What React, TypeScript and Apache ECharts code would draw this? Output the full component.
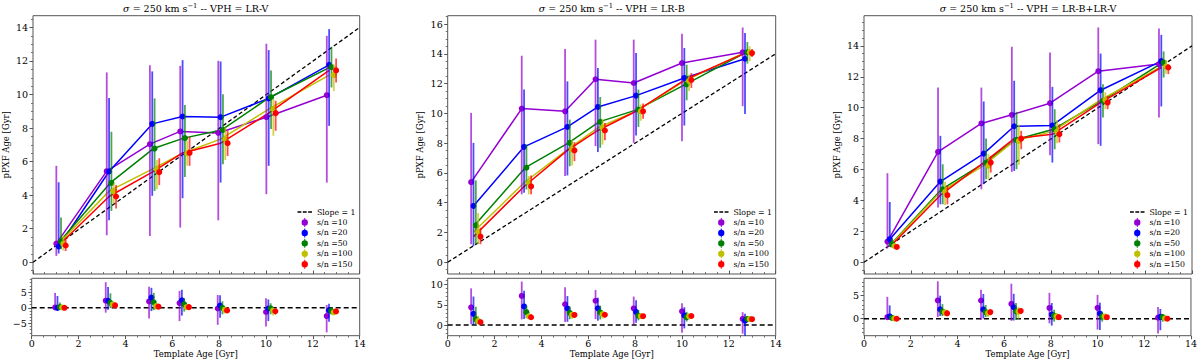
import React, { useEffect, useRef } from 'react';
import * as echarts from 'echarts';

// ---------------- data ----------------
const TEMPLATE_AGES = [1.0, 3.16, 5.01, 6.31, 7.94, 10.0, 12.59];
const SN_LABELS = ['s/n =10', 's/n =20', 's/n =50', 's/n =100', 's/n =150'];
const SN_COLORS = ['#9400d3', '#0000ff', '#008000', '#bfbf00', '#ff0000'];
const POINT_X_OFFSETS = [0, 0.1, 0.2, 0.3, 0.4];
const LINE_X_OFFSETS = [0, 0.1, 0.15, 0.1, 0.1];

// rows: [pPXF age, lower error end, upper error end]
const LRV_SN10 = [[1.11, 0.38, 5.75], [5.43, 1.61, 11.32], [7.04, 1.57, 11.75], [7.8, 2.07, 11.71], [7.71, 2.5, 12.01], [8.65, 4.06, 13.03], [9.96, 4.75, 13.5]];
const LRV_SN20 = [[0.94, 0.52, 4.77], [5.41, 2.5, 9.79], [8.25, 3.96, 11.38], [8.69, 3.82, 12.05], [8.65, 4.75, 11.97], [9.77, 5.75, 12.65], [11.77, 8.13, 13.9]];
const LRV_SN50 = [[1.24, 0.78, 2.67], [4.73, 3.06, 7.78], [6.78, 4.25, 9.77], [7.4, 5.09, 9.37], [7.89, 5.85, 10.02], [9.84, 7.94, 11.44], [11.63, 10.42, 12.85]];
const LRV_SN100 = [[1.1, 0.7, 1.6], [4.24, 3.5, 4.7], [5.55, 4.36, 6.1], [6.5, 5.75, 7.24], [7.34, 6.1, 8.04], [9.13, 7.54, 9.73], [11.16, 10.2, 11.8]];
const LRV_SN150 = [[1.0, 0.67, 1.37], [3.92, 3.2, 4.61], [5.37, 4.6, 6.2], [6.52, 5.75, 7.48], [7.1, 6.34, 7.84], [8.89, 7.84, 9.63], [11.44, 10.72, 12.15]];

const LRB_SN10 = [[5.38, 1.21, 10.03], [10.32, 4.56, 13.87], [10.14, 5.79, 14.32], [12.29, 7.8, 14.95], [12.04, 8.02, 14.95], [13.38, 8.13, 15.35], [14.1, 10.48, 15.77]];
const LRB_SN20 = [[3.78, 1.09, 8.02], [7.75, 4.67, 11.6], [9.09, 5.83, 12.15], [10.43, 7.4, 13.05], [11.19, 8.51, 14.05], [12.38, 9.18, 14.39], [13.67, 9.96, 15.4]];
const LRB_SN50 = [[2.48, 1.21, 5.5], [6.35, 4.89, 7.91], [8.02, 6.45, 9.58], [9.43, 7.69, 11.1], [10.25, 9.09, 11.6], [11.95, 10.88, 13.27], [14.1, 13.34, 14.79]];
const LRB_SN100 = [[2.03, 1.21, 3.3], [5.34, 4.56, 5.8], [7.57, 6.5, 8.2], [9.03, 7.9, 9.6], [10.14, 9.5, 10.6], [12.17, 11.5, 12.6], [14.1, 13.5, 14.5]];
const LRB_SN150 = [[1.72, 1.21, 2.32], [5.09, 4.56, 5.83], [7.51, 6.79, 8.07], [8.85, 8.2, 9.36], [10.14, 9.63, 10.66], [12.24, 11.71, 12.71], [14.05, 13.79, 14.32]];

const LRBV_SN10 = [[1.34, 0.89, 5.76], [7.14, 3.54, 11.3], [8.98, 4.72, 11.3], [9.54, 5.85, 13.94], [10.29, 6.93, 13.57], [12.36, 7.64, 15.19], [12.82, 9.36, 15.12]];
const LRBV_SN20 = [[1.49, 1.01, 3.9], [5.22, 3.75, 8.18], [7.03, 5.05, 10.4], [8.8, 5.91, 11.74], [8.85, 6.45, 11.35], [11.13, 7.53, 13.5], [13.01, 10.08, 14.71]];
const LRBV_SN50 = [[1.17, 0.95, 1.5], [4.72, 3.75, 6.34], [6.45, 5.37, 8.0], [7.92, 6.02, 9.73], [8.61, 7.31, 9.9], [10.44, 9.36, 11.52], [12.92, 11.95, 13.64]];
const LRBV_SN100 = [[1.05, 0.9, 1.25], [4.55, 3.7, 5.2], [6.25, 5.4, 7.0], [7.85, 6.3, 8.9], [8.45, 7.7, 9.2], [10.5, 9.9, 11.0], [12.66, 12.2, 13.1]];
const LRBV_SN150 = [[0.99, 0.9, 1.1], [4.34, 3.75, 4.94], [6.45, 5.8, 6.88], [8.0, 7.31, 8.5], [8.28, 7.75, 8.93], [10.33, 9.9, 10.76], [12.6, 12.17, 12.82]];

const PANEL_VPH = ['LR-V', 'LR-B', 'LR-B+LR-V'];
const PANEL_SERIES = [
  [LRV_SN10, LRV_SN20, LRV_SN50, LRV_SN100, LRV_SN150],
  [LRB_SN10, LRB_SN20, LRB_SN50, LRB_SN100, LRB_SN150],
  [LRBV_SN10, LRBV_SN20, LRBV_SN50, LRBV_SN100, LRBV_SN150],
];

const MAIN_Y_MIN = [-0.7, -0.79, -0.76];
const MAIN_Y_MAX = [14.7, 16.56, 15.95];
const MAIN_Y_TICKS = [
  [0, 2, 4, 6, 8, 10, 12, 14],
  [0, 2, 4, 6, 8, 10, 12, 14, 16],
  [0, 2, 4, 6, 8, 10, 12, 14],
];
const RES_Y_MIN = [-8.9, -2.6, -3.7];
const RES_Y_MAX = [9.4, 11.5, 8.8];
const RES_Y_TICKS = [
  [-5, 0, 5],
  [0, 5, 10],
  [0, 5],
];
const X_MIN = 0;
const X_MAX = 14;
const SLOPE_LINE = [[0, 0], [14, 14]];
const ZERO_LINE = [[0, 0], [14, 0]];

// ---------------- layout / style ----------------
const FONT = '"DejaVu Serif", serif';
const FRAME = '#555555';
const GRID_LEFT = [31.7, 447.7, 864];
const GRID_W = 328;
const MAIN_TOP = 15.7;
const MAIN_H = 258.3;
const RES_TOP = 278.3;
const RES_H = 57.4;
const LEGEND_LEFT = [297.5, 714, 1130];
const LEGEND_TOP = 207.5;
const TICK_FS = 9.5;
const NAME_FS = 8.5;

const ERR_ICON =
  'path://M5.35,0h2v2.7h-2z M5.35,15.3h2v2.7h-2z M0,9a6.35,6.35 0 1 0 12.7,0a6.35,6.35 0 1 0 -12.7,0z';
const DASH_ICON = 'path://M0,0h4v1.4h-4z M5.5,0h4v1.4h-4z M11,0h4v1.4h-4z';

function minorValues(min: number, max: number, step: number, majorStep: number) {
  const out: number[] = [];
  const start = Math.ceil(min / step);
  const end = Math.floor(max / step);
  for (let i = start; i <= end; i++) {
    const v = +(i * step).toFixed(6);
    if (Math.abs(v / majorStep - Math.round(v / majorStep)) > 1e-6) out.push(v);
  }
  return out;
}

const fmt = (v: number) => String(v).replace('-', '\u2212');

function errorRender(color: string) {
  return (params: any, api: any) => {
    const x = api.value(0);
    const y = api.value(1);
    const lo = api.value(2);
    const hi = api.value(3);
    const pLo = api.coord([x, lo]);
    const pHi = api.coord([x, hi]);
    const p = api.coord([x, y]);
    return {
      type: 'group',
      children: [
        {
          type: 'line',
          shape: { x1: pLo[0], y1: pLo[1], x2: pHi[0], y2: pHi[1] },
          style: { stroke: color, lineWidth: 1.8, opacity: 0.7 },
        },
        {
          type: 'circle',
          shape: { cx: p[0], cy: p[1], r: 3 },
          style: { fill: color },
        },
      ],
    };
  };
}

function buildOption() {
  const grid: any[] = [];
  const xAxis: any[] = [];
  const yAxis: any[] = [];
  const series: any[] = [];
  const legend: any[] = [];
  const graphic: any[] = [];

  const labelStyle = { fontSize: TICK_FS, fontFamily: FONT, color: '#000', fontWeight: 'normal' };
  const nameStyle = { fontSize: NAME_FS, fontFamily: FONT, color: '#000', fontWeight: 'normal' };

  for (let p = 0; p < 3; p++) {
    grid.push({ left: GRID_LEFT[p], top: MAIN_TOP, width: GRID_W, height: MAIN_H, show: true, borderColor: FRAME, borderWidth: 1, backgroundColor: 'transparent' });
    grid.push({ left: GRID_LEFT[p], top: RES_TOP, width: GRID_W, height: RES_H, show: true, borderColor: FRAME, borderWidth: 1, backgroundColor: 'transparent' });

    for (let k = 0; k < 2; k++) {
      const isRes = k === 1;
      xAxis.push({
        type: 'value',
        gridIndex: 2 * p + k,
        min: X_MIN,
        max: X_MAX,
        interval: 2,
        position: 'bottom',
        axisLine: { show: false, onZero: false },
        axisTick: { show: true, inside: !isRes, length: 3.5, lineStyle: { color: FRAME, width: 1 } },
        minorTick: { show: true, splitNumber: 4, length: 2, lineStyle: { color: FRAME, width: 0.8 } },
        splitLine: { show: false },
        minorSplitLine: { show: false },
        axisLabel: { show: isRes, ...labelStyle, margin: 3 },
        name: isRes ? 'Template Age [Gyr]' : '',
        nameLocation: 'middle',
        nameGap: 12.5,
        nameTextStyle: { ...nameStyle },
      });
    }

    // main major
    yAxis.push({
      type: 'value',
      gridIndex: 2 * p,
      min: MAIN_Y_MIN[p],
      max: MAIN_Y_MAX[p],
      position: 'left',
      axisLine: { show: false, onZero: false },
      axisTick: { show: true, length: 3.5, customValues: MAIN_Y_TICKS[p], lineStyle: { color: FRAME, width: 1 } },
      axisLabel: { show: true, customValues: MAIN_Y_TICKS[p], formatter: fmt, ...labelStyle, margin: 5 },
      splitLine: { show: false },
      name: 'pPXF Age [Gyr]',
      nameLocation: 'middle',
      nameGap: 23,
      nameRotate: 90,
      nameTextStyle: { ...nameStyle },
    });
    // main minor
    yAxis.push({
      type: 'value',
      gridIndex: 2 * p,
      min: MAIN_Y_MIN[p],
      max: MAIN_Y_MAX[p],
      position: 'left',
      axisLine: { show: false, onZero: false },
      axisTick: { show: true, length: 2, customValues: minorValues(MAIN_Y_MIN[p], MAIN_Y_MAX[p], 0.5, 2), lineStyle: { color: FRAME, width: 0.8 } },
      axisLabel: { show: false },
      splitLine: { show: false },
    });
    // residual major
    yAxis.push({
      type: 'value',
      gridIndex: 2 * p + 1,
      min: RES_Y_MIN[p],
      max: RES_Y_MAX[p],
      position: 'left',
      axisLine: { show: false, onZero: false },
      axisTick: { show: true, length: 3.5, customValues: RES_Y_TICKS[p], lineStyle: { color: FRAME, width: 1 } },
      axisLabel: { show: true, customValues: RES_Y_TICKS[p], formatter: fmt, ...labelStyle, margin: 5 },
      splitLine: { show: false },
    });
    // residual minor
    yAxis.push({
      type: 'value',
      gridIndex: 2 * p + 1,
      min: RES_Y_MIN[p],
      max: RES_Y_MAX[p],
      position: 'left',
      axisLine: { show: false, onZero: false },
      axisTick: { show: true, length: 2, customValues: minorValues(RES_Y_MIN[p], RES_Y_MAX[p], 1, 5), lineStyle: { color: FRAME, width: 0.8 } },
      axisLabel: { show: false },
      splitLine: { show: false },
    });

    const xMain = 2 * p;
    const xRes = 2 * p + 1;
    const yMain = 4 * p;
    const yRes = 4 * p + 2;

    series.push({
      type: 'line',
      name: 'Slope = 1',
      xAxisIndex: xMain,
      yAxisIndex: yMain,
      data: SLOPE_LINE,
      symbol: 'none',
      silent: true,
      z: 1,
      itemStyle: { color: '#000' },
      lineStyle: { color: '#000', width: 1.3, type: [4, 2.5] },
    });
    series.push({
      type: 'line',
      name: 'zero',
      xAxisIndex: xRes,
      yAxisIndex: yRes,
      data: ZERO_LINE,
      symbol: 'none',
      silent: true,
      z: 1,
      itemStyle: { color: '#000' },
      lineStyle: { color: '#000', width: 1.5, type: [5, 3] },
    });

    const rowsAll = PANEL_SERIES[p];
    for (let s = 0; s < 5; s++) {
      const rows = rowsAll[s];
      const color = SN_COLORS[s];
      series.push({
        type: 'line',
        name: 'trend ' + SN_LABELS[s],
        xAxisIndex: xMain,
        yAxisIndex: yMain,
        data: rows.map((r, i) => [TEMPLATE_AGES[i] + LINE_X_OFFSETS[s], r[0]]),
        symbol: 'none',
        silent: true,
        z: 2,
        itemStyle: { color },
        lineStyle: { color, width: 1.5 },
      });
    }
    for (let s = 0; s < 5; s++) {
      const rows = rowsAll[s];
      const color = SN_COLORS[s];
      series.push({
        type: 'custom',
        name: SN_LABELS[s],
        coordinateSystem: 'cartesian2d',
        xAxisIndex: xMain,
        yAxisIndex: yMain,
        data: rows.map((r, i) => [TEMPLATE_AGES[i] + POINT_X_OFFSETS[s], r[0], r[1], r[2]]),
        encode: { x: 0, y: [1, 2, 3] },
        renderItem: errorRender(color),
        itemStyle: { color },
        silent: true,
        z: 3,
      });
      series.push({
        type: 'custom',
        name: SN_LABELS[s],
        coordinateSystem: 'cartesian2d',
        xAxisIndex: xRes,
        yAxisIndex: yRes,
        data: rows.map((r, i) => [
          TEMPLATE_AGES[i] + POINT_X_OFFSETS[s],
          r[0] - TEMPLATE_AGES[i],
          r[1] - TEMPLATE_AGES[i],
          r[2] - TEMPLATE_AGES[i],
        ]),
        encode: { x: 0, y: [1, 2, 3] },
        renderItem: errorRender(color),
        itemStyle: { color },
        silent: true,
        z: 3,
      });
    }

    legend.push({
      orient: 'vertical',
      left: LEGEND_LEFT[p],
      top: LEGEND_TOP,
      padding: 0,
      itemWidth: 14.5,
      itemHeight: 9,
      itemGap: 1.45,
      selectedMode: false,
      textStyle: { fontSize: 7.8, fontFamily: FONT, color: '#000', lineHeight: 9, fontWeight: 'normal' },
      data: [
        { name: 'Slope = 1', icon: DASH_ICON, itemStyle: { color: '#000', borderWidth: 0 } },
        ...SN_LABELS.map((n) => ({ name: n, icon: ERR_ICON })),
      ],
    });

    graphic.push({
      type: 'text',
      x: GRID_LEFT[p] + GRID_W / 2,
      y: 8.5,
      style: {
        text: '{it|\u03c3}{n| = 250 km s}{sup|\u22121}{n| -- VPH = ' + PANEL_VPH[p] + '}',
        align: 'center',
        verticalAlign: 'middle',
        fontSize: TICK_FS,
        fontFamily: FONT,
        fontWeight: 'normal',
        fill: '#000',
        rich: {
          it: { fontSize: TICK_FS, fontFamily: FONT, fontStyle: 'italic', fontWeight: 'normal', fill: '#000', lineHeight: 12 },
          n: { fontSize: TICK_FS, fontFamily: FONT, fontWeight: 'normal', fill: '#000', lineHeight: 12 },
          sup: { fontSize: 6.8, fontFamily: FONT, fontWeight: 'normal', fill: '#000', lineHeight: 7, verticalAlign: 'top' },
        },
      },
    });
  }

  return {
    animation: false,
    backgroundColor: '#ffffff',
    grid,
    xAxis,
    yAxis,
    series,
    legend,
    graphic,
  };
}

export default function App() {
  const ref = useRef<HTMLDivElement | null>(null);
  useEffect(() => {
    if (!ref.current) return;
    const chart = echarts.init(ref.current, undefined, { renderer: 'svg' });
    chart.setOption(buildOption() as any);
    return () => {
      chart.dispose();
    };
  }, []);
  return (
    <div
      ref={ref}
      style={{ position: 'absolute', left: 0, top: 0, width: 1200, height: 362 }}
    />
  );
}
